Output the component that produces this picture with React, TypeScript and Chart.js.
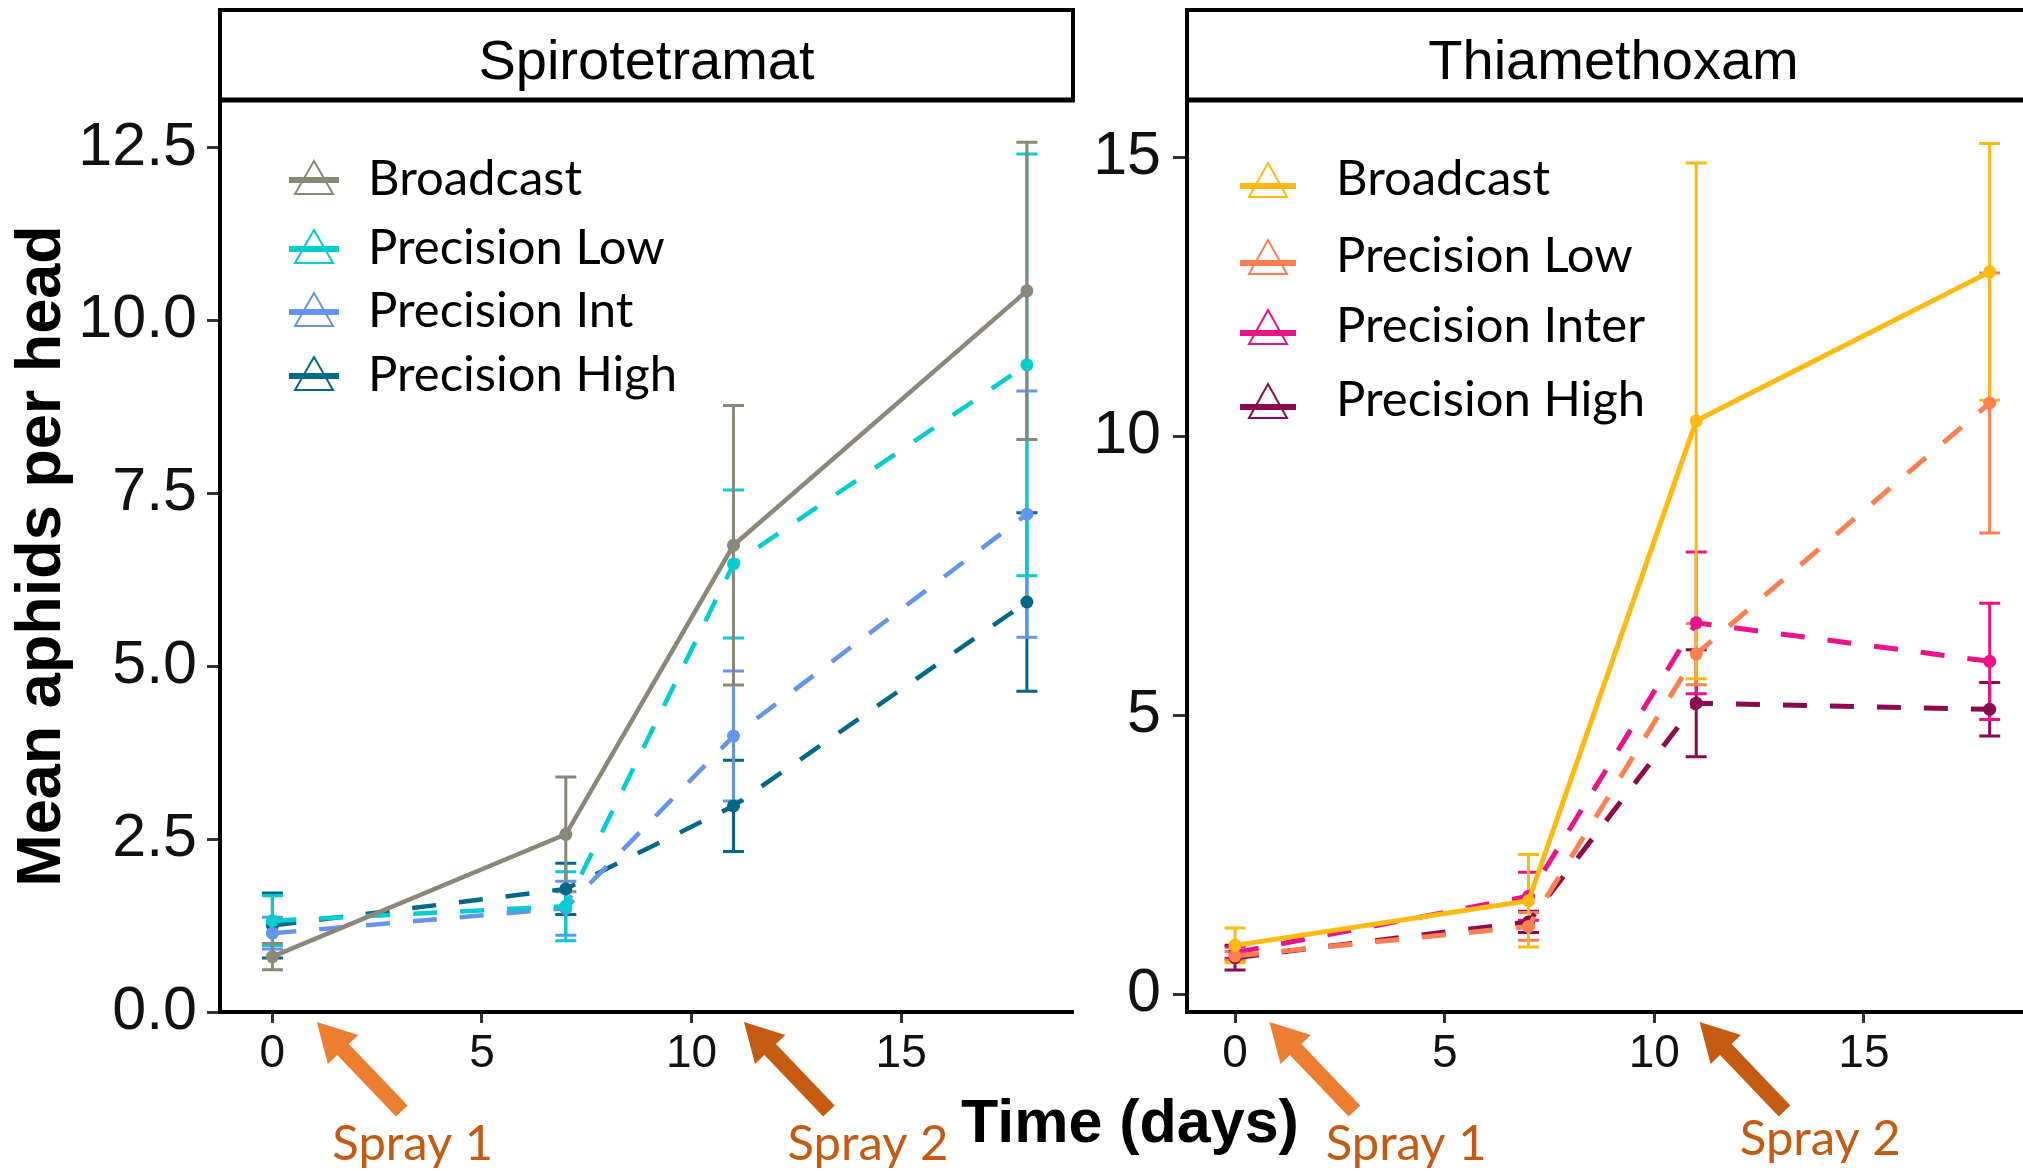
import React, { useEffect, useRef } from "react";
import { Chart, registerables } from "chart.js";

Chart.register(...registerables);

// ---------------- data ----------------
const days = [0, 7, 11, 18];

const panelTitles = ["Spirotetramat", "Thiamethoxam"];
const xAxisTitle = "Time (days)";
const yAxisTitle = "Mean aphids per head";

// Spirotetramat panel
const spiroSeriesNames = ["Broadcast", "Precision Low", "Precision Int", "Precision High"];
const spiroBroadcastMean = [0.8, 2.57, 6.75, 10.43];
const spiroBroadcastSE = [0.19, 0.83, 2.02, 2.15];
const spiroLowMean = [1.32, 1.53, 6.48, 9.36];
const spiroLowSE = [0.36, 0.5, 1.07, 3.05];
const spiroIntMean = [1.14, 1.5, 3.99, 7.2];
const spiroIntSE = [0.23, 0.39, 0.94, 1.78];
const spiroHighMean = [1.25, 1.78, 2.98, 5.93];
const spiroHighSE = [0.47, 0.37, 0.66, 1.29];

// Thiamethoxam panel
const thiaSeriesNames = ["Broadcast", "Precision Low", "Precision Inter", "Precision High"];
const thiaBroadcastMean = [0.88, 1.68, 10.28, 12.95];
const thiaBroadcastSE = [0.31, 0.83, 4.62, 2.3];
const thiaLowMean = [0.69, 1.22, 6.1, 10.6];
const thiaLowSE = [0.08, 0.25, 0.55, 2.33];
const thiaInterMean = [0.75, 1.76, 6.66, 5.97];
const thiaInterSE = [0.1, 0.43, 1.27, 1.04];
const thiaHighMean = [0.66, 1.3, 5.22, 5.11];
const thiaHighSE = [0.22, 0.19, 0.96, 0.48];

// ticks
const xTickValues = [0, 5, 10, 15];
const spiroYTickValues = [0, 2.5, 5, 7.5, 10, 12.5];
const thiaYTickValues = [0, 5, 10, 15];

// spray annotations (in days)
const sprayLabels = ["Spray 1", "Spray 2"];
const spiroSprayArrowDays = [1.06, 11.25];
const spiroSprayLabelDays = [3.35, 14.21];
const thiaSprayArrowDays = [0.82, 11.08];
const thiaSprayLabelDays = [4.08, 13.96];

// ---------------- styles ----------------
const spiroColors = ["#8B8878", "#00CED1", "#6495ED", "#00688B"];
const thiaColors = ["#FFB90F", "#FF7F50", "#EE1289", "#8B0A50"];
const seriesDashed = [false, true, true, true];
const sprayArrowColors = ["#ED7D31", "#C55A11"];
const sprayTextColor = "#C55A11";
const CANVAS_H = 1171;

type KeyGeom = { apex: number; line: number; base: number; halfLine: number; halfBase: number };

type PanelCfg = {
  id: string;
  title: string;
  names: string[];
  means: number[][];
  ses: number[][];
  colors: string[];
  yTicks: number[];
  yMin: number;
  yMax: number;
  xMin: number;
  xMax: number;
  yDecimals: number;
  yAxisWidth: number;
  yTickLen: number;
  yTickPad: number;
  showYTitle: boolean;
  canvasLeft: number;
  canvasWidth: number;
  padRight: number;
  lineWidth: number;
  legendKeyDx: number;
  legendTextDx: number;
  legendBaselines: number[];
  key: KeyGeom;
  arrowDays: number[];
  labelDays: number[];
  labelBaselines: number[];
};

const spiroCfg: PanelCfg = {
  id: "spiro",
  title: panelTitles[0],
  names: spiroSeriesNames,
  means: [spiroBroadcastMean, spiroLowMean, spiroIntMean, spiroHighMean],
  ses: [spiroBroadcastSE, spiroLowSE, spiroIntSE, spiroHighSE],
  colors: spiroColors,
  yTicks: spiroYTickValues,
  yMin: 0,
  yMax: 13.19,
  xMin: -1.25,
  xMax: 19.1,
  yDecimals: 1,
  yAxisWidth: 220,
  yTickLen: 13,
  yTickPad: 10,
  showYTitle: true,
  canvasLeft: 0,
  canvasWidth: 1100,
  padRight: 27,
  lineWidth: 4.5,
  legendKeyDx: 94,
  legendTextDx: 148,
  legendBaselines: [195, 264, 327, 391],
  key: { apex: -34, line: -15, base: -1, halfLine: 25, halfBase: 19 },
  arrowDays: spiroSprayArrowDays,
  labelDays: spiroSprayLabelDays,
  labelBaselines: [1160, 1160],
};

const thiaCfg: PanelCfg = {
  id: "thia",
  title: panelTitles[1],
  names: thiaSeriesNames,
  means: [thiaBroadcastMean, thiaLowMean, thiaInterMean, thiaHighMean],
  ses: [thiaBroadcastSE, thiaLowSE, thiaInterSE, thiaHighSE],
  colors: thiaColors,
  yTicks: thiaYTickValues,
  yMin: -0.314,
  yMax: 16.03,
  xMin: -1.146,
  xMax: 19.2,
  yDecimals: 0,
  yAxisWidth: 97,
  yTickLen: 14,
  yTickPad: 12,
  showYTitle: false,
  canvasLeft: 1090,
  canvasWidth: 960,
  padRight: 10,
  lineWidth: 5,
  legendKeyDx: 81,
  legendTextDx: 149,
  legendBaselines: [195, 272, 342, 416],
  key: { apex: -32, line: -9, base: 2, halfLine: 28, halfBase: 19 },
  arrowDays: thiaSprayArrowDays,
  labelDays: thiaSprayLabelDays,
  labelBaselines: [1160, 1155],
};

function drawArrow(ctx: CanvasRenderingContext2D, tipX: number, tipY: number, tailX: number, tailY: number, color: string) {
  const dx = tipX - tailX;
  const dy = tipY - tailY;
  const L = Math.hypot(dx, dy);
  const ux = dx / L;
  const uy = dy / L;
  const nx = -uy;
  const ny = ux;
  const shaftW = 16;
  const headW = 42;
  const headL = 38;
  const bx = tipX - ux * headL;
  const by = tipY - uy * headL;
  ctx.fillStyle = color;
  ctx.beginPath();
  ctx.moveTo(tailX + (nx * shaftW) / 2, tailY + (ny * shaftW) / 2);
  ctx.lineTo(bx + (nx * shaftW) / 2, by + (ny * shaftW) / 2);
  ctx.lineTo(bx + (nx * headW) / 2, by + (ny * headW) / 2);
  ctx.lineTo(tipX, tipY);
  ctx.lineTo(bx - (nx * headW) / 2, by - (ny * headW) / 2);
  ctx.lineTo(bx - (nx * shaftW) / 2, by - (ny * shaftW) / 2);
  ctx.lineTo(tailX - (nx * shaftW) / 2, tailY - (ny * shaftW) / 2);
  ctx.closePath();
  ctx.fill();
}

function makePlugin(cfg: PanelCfg) {
  return {
    id: "decor_" + cfg.id,
    beforeDatasetsDraw(chart: any) {
      const ctx: CanvasRenderingContext2D = chart.ctx;
      const xs = chart.scales.x;
      const ys = chart.scales.y;
      ctx.save();
      ctx.setLineDash([]);
      ctx.lineWidth = 3;
      for (let s = cfg.means.length - 1; s >= 0; s--) {
        ctx.strokeStyle = cfg.colors[s];
        days.forEach((d, i) => {
          const px = xs.getPixelForValue(d);
          const top = ys.getPixelForValue(cfg.means[s][i] + cfg.ses[s][i]);
          const bot = ys.getPixelForValue(cfg.means[s][i] - cfg.ses[s][i]);
          ctx.beginPath();
          ctx.moveTo(px, top);
          ctx.lineTo(px, bot);
          ctx.moveTo(px - 10.5, top);
          ctx.lineTo(px + 10.5, top);
          ctx.moveTo(px - 10.5, bot);
          ctx.lineTo(px + 10.5, bot);
          ctx.stroke();
        });
      }
      ctx.restore();
    },
    afterDraw(chart: any) {
      const ctx: CanvasRenderingContext2D = chart.ctx;
      const { left, right, bottom } = chart.chartArea;
      const xs = chart.scales.x;
      ctx.save();
      ctx.setLineDash([]);

      // strip
      ctx.fillStyle = "#ffffff";
      ctx.fillRect(left, 10, right - left, 90);
      ctx.strokeStyle = "#000";
      ctx.lineWidth = 4;
      ctx.strokeRect(left, 10, right - left, 90);
      ctx.lineWidth = 5;
      ctx.beginPath();
      ctx.moveTo(left - 2, 100);
      ctx.lineTo(right + 2, 100);
      ctx.stroke();
      ctx.fillStyle = "#000";
      ctx.font = '56px "Liberation Sans", Arial, sans-serif';
      ctx.textAlign = "center";
      ctx.textBaseline = "alphabetic";
      ctx.fillText(cfg.title, (left + right) / 2, 78.5);

      // legend
      const k = cfg.key;
      cfg.names.forEach((name, s) => {
        const bl = cfg.legendBaselines[s];
        const cx = left + cfg.legendKeyDx;
        ctx.strokeStyle = cfg.colors[s];
        ctx.lineWidth = 2;
        ctx.beginPath();
        ctx.moveTo(cx, bl + k.apex);
        ctx.lineTo(cx + k.halfBase, bl + k.base);
        ctx.lineTo(cx - k.halfBase, bl + k.base);
        ctx.closePath();
        ctx.stroke();
        ctx.lineWidth = 6;
        ctx.beginPath();
        ctx.moveTo(cx - k.halfLine, bl + k.line);
        ctx.lineTo(cx + k.halfLine, bl + k.line);
        ctx.stroke();
        ctx.fillStyle = "#000";
        ctx.font = '49px Lato, "Open Sans", sans-serif';
        ctx.textAlign = "left";
        ctx.textBaseline = "alphabetic";
        ctx.fillText(name, left + cfg.legendTextDx, bl);
      });

      // spray arrows and labels
      cfg.arrowDays.forEach((d, i) => {
        const tipX = xs.getPixelForValue(d);
        const tipY = bottom + 10;
        drawArrow(ctx, tipX, tipY, tipX + 85, tipY + 89, sprayArrowColors[i]);
        ctx.fillStyle = sprayTextColor;
        ctx.font = '49px Lato, "Open Sans", sans-serif';
        ctx.textAlign = "center";
        ctx.textBaseline = "alphabetic";
        ctx.fillText(sprayLabels[i], xs.getPixelForValue(cfg.labelDays[i]), cfg.labelBaselines[i]);
      });
      ctx.restore();
    },
  };
}

function Panel({ cfg }: { cfg: PanelCfg }) {
  const ref = useRef<HTMLCanvasElement>(null);
  useEffect(() => {
    const canvas = ref.current!;
    const tickFontX = { family: "Liberation Sans", size: 46 };
    const tickFontY = { family: "Liberation Sans", size: 61 };
    const chart = new Chart(canvas, {
      type: "line",
      data: {
        datasets: cfg.names.map((n, s) => ({
          label: n,
          data: days.map((d, i) => ({ x: d, y: cfg.means[s][i] })),
          borderColor: cfg.colors[s],
          backgroundColor: cfg.colors[s],
          borderWidth: cfg.lineWidth,
          borderDash: seriesDashed[s] ? [24, 23] : [],
          borderCapStyle: "butt",
          pointRadius: 6.5,
          pointHoverRadius: 6.5,
          pointBackgroundColor: cfg.colors[s],
          pointBorderWidth: 0,
          tension: 0,
          fill: false,
        })),
      },
      options: {
        responsive: false,
        animation: false,
        devicePixelRatio: 1,
        events: [],
        layout: { padding: { top: 100, right: cfg.padRight, bottom: 0, left: 0 } },
        plugins: {
          legend: { display: false },
          tooltip: { enabled: false },
          title: { display: false },
        },
        scales: {
          x: {
            type: "linear",
            min: cfg.xMin,
            max: cfg.xMax,
            afterBuildTicks: (s: any) => {
              s.ticks = xTickValues.map((v) => ({ value: v }));
            },
            afterFit: (s: any) => {
              s.height = CANVAS_H - 1012;
            },
            ticks: {
              font: tickFontX,
              color: "#111",
              padding: 4,
              maxRotation: 0,
              autoSkip: false,
              callback: (v: any) => String(v),
            },
            grid: {
              drawOnChartArea: false,
              drawTicks: true,
              tickLength: 11,
              tickWidth: 3,
              tickColor: "#333",
            },
            border: { display: true, color: "#000", width: 4 },
          },
          y: {
            type: "linear",
            min: cfg.yMin,
            max: cfg.yMax,
            afterBuildTicks: (s: any) => {
              s.ticks = cfg.yTicks.map((v) => ({ value: v }));
            },
            afterFit: (s: any) => {
              s.width = cfg.yAxisWidth;
            },
            ticks: {
              font: tickFontY,
              color: "#111",
              padding: cfg.yTickPad,
              autoSkip: false,
              callback: (v: any) => Number(v).toFixed(cfg.yDecimals),
            },
            grid: {
              drawOnChartArea: false,
              drawTicks: true,
              tickLength: cfg.yTickLen,
              tickWidth: 3,
              tickColor: "#333",
            },
            border: { display: true, color: "#000", width: 4 },
            title: {
              display: cfg.showYTitle,
              text: yAxisTitle,
              color: "#000",
              font: { family: "Liberation Sans", size: 63, weight: "bold" },
              padding: { top: 5, bottom: 0 },
            },
          },
        },
      } as any,
      plugins: [makePlugin(cfg)],
    } as any);
    return () => chart.destroy();
  }, [cfg]);
  return (
    <canvas
      ref={ref}
      width={cfg.canvasWidth}
      height={CANVAS_H}
      style={{ position: "absolute", left: cfg.canvasLeft, top: 0, width: cfg.canvasWidth, height: CANVAS_H }}
    />
  );
}

export default function App() {
  return (
    <div
      style={{
        position: "fixed",
        left: 0,
        top: 0,
        width: 2023,
        height: CANVAS_H,
        overflow: "hidden",
        background: "#ffffff",
      }}
    >
      <Panel cfg={spiroCfg} />
      <Panel cfg={thiaCfg} />
      <div
        style={{
          position: "absolute",
          left: 1130,
          top: 1091,
          transform: "translateX(-50%)",
          fontFamily: '"Liberation Sans", Arial, sans-serif',
          fontWeight: "bold",
          fontSize: 61,
          lineHeight: "60px",
          whiteSpace: "nowrap",
          color: "#000",
        }}
      >
        {xAxisTitle}
      </div>
    </div>
  );
}
